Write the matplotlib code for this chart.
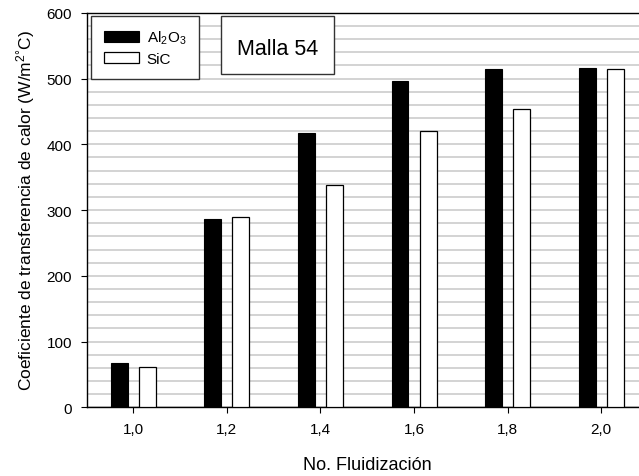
import matplotlib
matplotlib.use("Agg")
import matplotlib.pyplot as plt
from matplotlib.patches import Rectangle
import numpy as np

plt.rcParams['font.family'] = ['Liberation Sans', 'DejaVu Sans']
plt.rcParams['mathtext.fontset'] = 'custom'
plt.rcParams['mathtext.rm'] = 'Liberation Sans'
plt.rcParams['mathtext.it'] = 'Liberation Sans'
plt.rcParams['mathtext.default'] = 'regular'

fluidization = [1.0, 1.2, 1.4, 1.6, 1.8, 2.0]
tick_labels = ['1,0', '1,2', '1,4', '1,6', '1,8', '2,0']
al2o3 = [67, 286, 417, 497, 514, 516]
sic = [61, 289, 338, 420, 454, 514]
series_names = ['Al$_2$O$_3$', 'SiC']
title_box = 'Malla 54'
xlabel = 'No. Fluidización'
ylabel = 'Coeficiente de transferencia de calor (W/m$^{2°}$C)'

W, H = 639, 477
fig = plt.figure(figsize=(W / 100, H / 100), dpi=100)
left, right, bottom, top = 86.5, 648.0, 408.3, 13.8
ax = fig.add_axes([left / W, 1 - bottom / H, (right - left) / W, (bottom - top) / H])

x = np.array(fluidization)
bw = 0.036
off = 0.030
ax.bar(x - off, al2o3, width=bw, color='black', edgecolor='black', linewidth=0.8,
       label=series_names[0], zorder=3)
ax.bar(x + off, sic, width=bw, color='white', edgecolor='black', linewidth=0.9,
       label=series_names[1], zorder=3)

ax.set_xlim(0.9, 2.1)
ax.set_ylim(0, 600)
ax.set_xticks(x)
ax.set_xticklabels(tick_labels)
ax.set_yticks(np.arange(0, 601, 100))
ax.set_yticks(np.arange(0, 601, 20), minor=True)
ax.tick_params(axis='y', which='minor', length=0)
ax.tick_params(axis='both', which='major', direction='out', length=4.3, width=0.8,
               labelsize=11, pad=6, colors='black')
ax.grid(axis='y', which='both', color='#c8c8c8', linewidth=1.1, zorder=0)
ax.set_axisbelow(True)
for s in ['left', 'bottom', 'top']:
    ax.spines[s].set_linewidth(1.0)
    ax.spines[s].set_color('black')
ax.spines['right'].set_visible(False)

ax.set_xlabel(xlabel, fontsize=13, labelpad=15)
ax.set_ylabel(ylabel, fontsize=12.5, labelpad=7)

leg = ax.legend(loc='upper left', bbox_to_anchor=(0.008, 0.992), borderaxespad=0,
                fancybox=False, framealpha=1, edgecolor='#333333', fontsize=11,
                handlelength=2.3, handleheight=0.72, handletextpad=0.5,
                labelspacing=0.35, borderpad=0.85)
leg.get_frame().set_linewidth(1.0)

box = Rectangle((0.2395, 0.8441), 0.4408 - 0.2395, 0.9926 - 0.8441,
                transform=ax.transAxes, facecolor='white', edgecolor='#333333',
                linewidth=1.0, zorder=5)
ax.add_patch(box)
ax.text(0.341, 0.8956, title_box, transform=ax.transAxes, fontsize=15.5,
        ha='center', va='baseline', zorder=6)

fig.savefig('out.png', dpi=100)
